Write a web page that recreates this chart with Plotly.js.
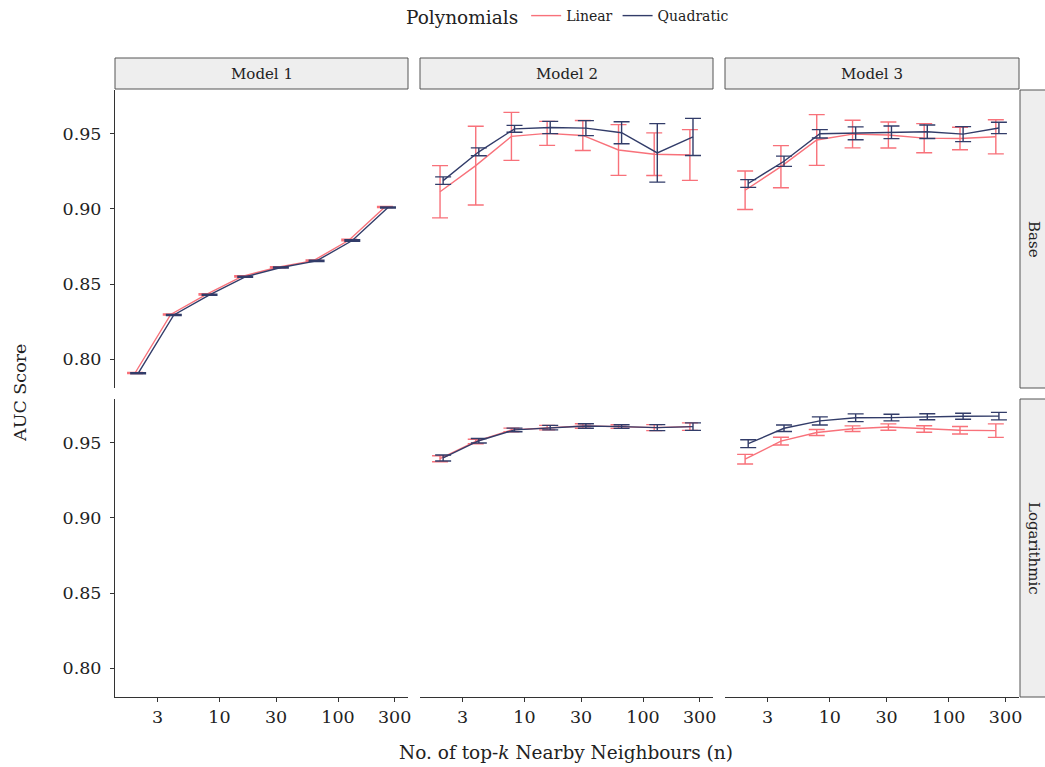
<!DOCTYPE html>
<html>
<head>
<meta charset="utf-8">
<script src="https://cdn.plot.ly/plotly-3.0.1.min.js"></script>
<style>
  html, body { margin: 0; padding: 0; background: #ffffff; }
  #chart { width: 1045px; height: 767px; }
</style>
</head>
<body>
<div id="chart"></div>
<script>
// Neighbourhood sizes (top-k) evaluated for every model
const kValues = [2, 4, 8, 16, 32, 64, 128, 256];

const modelNames = ['Model 1', 'Model 2', 'Model 3'];
const rowNames = ['Base', 'Logarithmic'];
const seriesNames = ['Linear', 'Quadratic'];
const xTickVals = [3, 10, 30, 100, 300];
const yTickVals = [0.80, 0.85, 0.90, 0.95];

// Mean AUC and error half-widths, Base features
const m1BaseLinear     = [0.7907, 0.8297, 0.8431, 0.8551, 0.8612, 0.8656, 0.8793, 0.9013];
const m1BaseLinearErr  = [0.0004, 0.0004, 0.0004, 0.0004, 0.0004, 0.0004, 0.0005, 0.0004];
const m1BaseQuad       = [0.7905, 0.8294, 0.8428, 0.8548, 0.8610, 0.8654, 0.8790, 0.9010];
const m1BaseQuadErr    = [0.0004, 0.0004, 0.0004, 0.0004, 0.0004, 0.0004, 0.0005, 0.0004];

const m2BaseLinear     = [0.9115, 0.9289, 0.9484, 0.9504, 0.9490, 0.9393, 0.9365, 0.9360];
const m2BaseLinearErr  = [0.0174, 0.0262, 0.0160, 0.0080, 0.0100, 0.0169, 0.0142, 0.0169];
const m2BaseQuad       = [0.9189, 0.9381, 0.9534, 0.9543, 0.9539, 0.9508, 0.9374, 0.9480];
const m2BaseQuadErr    = [0.0025, 0.0026, 0.0023, 0.0041, 0.0050, 0.0073, 0.0195, 0.0124];

const m3BaseLinear     = [0.9125, 0.9282, 0.9460, 0.9499, 0.9493, 0.9472, 0.9470, 0.9481];
const m3BaseLinearErr  = [0.0128, 0.0140, 0.0169, 0.0092, 0.0087, 0.0097, 0.0075, 0.0114];
const m3BaseQuad       = [0.9170, 0.9318, 0.9501, 0.9504, 0.9511, 0.9515, 0.9499, 0.9540];
const m3BaseQuadErr    = [0.0026, 0.0034, 0.0028, 0.0043, 0.0042, 0.0045, 0.0050, 0.0038];

// Mean AUC and error half-widths, Logarithmic features (Model 1 has none)
const m2LogLinear      = [0.9395, 0.9510, 0.9587, 0.9602, 0.9613, 0.9609, 0.9602, 0.9609];
const m2LogLinearErr   = [0.0020, 0.0015, 0.0012, 0.0015, 0.0015, 0.0012, 0.0020, 0.0025];
const m2LogQuad        = [0.9400, 0.9515, 0.9587, 0.9602, 0.9613, 0.9609, 0.9602, 0.9609];
const m2LogQuadErr     = [0.0020, 0.0015, 0.0012, 0.0015, 0.0015, 0.0012, 0.0020, 0.0025];

const m3LogLinear      = [0.9392, 0.9512, 0.9570, 0.9595, 0.9606, 0.9593, 0.9585, 0.9582];
const m3LogLinearErr   = [0.0032, 0.0026, 0.0020, 0.0019, 0.0021, 0.0022, 0.0025, 0.0045];
const m3LogQuad        = [0.9495, 0.9598, 0.9647, 0.9668, 0.9669, 0.9675, 0.9678, 0.9679];
const m3LogQuadErr     = [0.0026, 0.0022, 0.0027, 0.0026, 0.0022, 0.0020, 0.0020, 0.0025];

// Panel contents: [row][column] -> [linear, linearErr, quad, quadErr] or null
const panels = [
  [[m1BaseLinear, m1BaseLinearErr, m1BaseQuad, m1BaseQuadErr],
   [m2BaseLinear, m2BaseLinearErr, m2BaseQuad, m2BaseQuadErr],
   [m3BaseLinear, m3BaseLinearErr, m3BaseQuad, m3BaseQuadErr]],
  [null,
   [m2LogLinear, m2LogLinearErr, m2LogQuad, m2LogQuadErr],
   [m3LogLinear, m3LogLinearErr, m3LogQuad, m3LogQuadErr]]
];

const colors = { Linear: '#F8717A', Quadratic: '#323C69' };
const FONT = 'DejaVu Serif, Liberation Serif, serif';
const W = 1045, H = 767;

// panel geometry (pixels)
const colPx = [[115, 408], [420, 713], [725, 1019]];
const rowPx = [[90, 388], [399, 697]];
const px2x = p => p / W;
const px2y = p => 1 - p / H;

// small horizontal dodge between the two series on the log axis
const dodge = [Math.pow(10, -0.013), Math.pow(10, 0.013)];

const traces = [];
let legendShown = false;
panels.forEach((row, r) => {
  row.forEach((panel, c) => {
    const axN = r * 3 + c + 1;
    const xa = axN === 1 ? 'x' : 'x' + axN;
    const ya = r === 0 ? 'y' : 'y2';
    if (!panel) {
      // empty facet: keep its axes on the page
      traces.push({ type: 'scatter', mode: 'lines', x: [], y: [], xaxis: xa, yaxis: ya,
                    showlegend: false, hoverinfo: 'skip' });
      return;
    }
    seriesNames.forEach((name, s) => {
      const vals = panel[s * 2];
      const errs = panel[s * 2 + 1];
      traces.push({
        type: 'scatter',
        mode: 'lines',
        name: name,
        legendgroup: name,
        showlegend: !legendShown && r === 0 && c === 1,
        x: kValues.map(k => k * dodge[s]),
        y: vals,
        xaxis: xa,
        yaxis: ya,
        line: { color: colors[name], width: 1.4 },
        error_y: { type: 'data', array: errs, visible: true, color: colors[name], thickness: 1.4, width: 8 },
        hoverinfo: 'x+y'
      });
    });
    if (r === 0 && c === 1) legendShown = true;
  });
});

const xRange = [0.119, 2.59];
const yRange = [0.7807, 0.9793];
const tickFont = { family: FONT, size: 17.5, color: '#222' };

const layout = {
  width: W, height: H,
  margin: { l: 0, r: 0, t: 0, b: 0 },
  paper_bgcolor: '#ffffff',
  plot_bgcolor: '#ffffff',
  font: { family: FONT, color: '#222' },
  showlegend: true,
  legend: {
    orientation: 'h',
    x: px2x(404), xanchor: 'left',
    y: 1.0, yanchor: 'top',
    title: { text: 'Polynomials', side: 'left', font: { family: FONT, size: 18.5, color: '#222' } },
    font: { family: FONT, size: 14, color: '#222' },
    itemwidth: 30,
    tracegroupgap: 0,
    bgcolor: 'rgba(0,0,0,0)'
  },
  shapes: [],
  annotations: []
};

// x axes: 1-3 base row (hidden), 4-6 logarithmic row (ticked)
for (let r = 0; r < 2; r++) {
  for (let c = 0; c < 3; c++) {
    const n = r * 3 + c + 1;
    const key = n === 1 ? 'xaxis' : 'xaxis' + n;
    layout[key] = {
      type: 'log',
      range: xRange,
      domain: [px2x(colPx[c][0]), px2x(colPx[c][1])],
      anchor: r === 0 ? 'y' : 'y2',
      showgrid: false,
      zeroline: false,
      showline: r === 1,
      linecolor: '#333', linewidth: 1,
      ticks: r === 1 ? 'outside' : '',
      ticklen: 4, tickcolor: '#333',
      tickvals: xTickVals,
      ticktext: xTickVals.map(String),
      showticklabels: r === 1,
      tickfont: tickFont,
      automargin: false,
      fixedrange: true
    };
  }
}

// y axes: one per row, drawn on the left panel only
[['yaxis', 0, 'x'], ['yaxis2', 1, 'x4']].forEach(([key, r, anchor]) => {
  layout[key] = {
    range: yRange,
    domain: [px2y(rowPx[r][1]), px2y(rowPx[r][0])],
    anchor: anchor,
    showgrid: false,
    zeroline: false,
    showline: true,
    linecolor: '#333', linewidth: 1,
    ticks: 'outside', ticklen: 4, tickcolor: '#333',
    tickvals: yTickVals,
    ticktext: yTickVals.map(v => v.toFixed(2)),
    tickfont: tickFont,
    ticklabelstandoff: 5,
    automargin: false,
    fixedrange: true
  };
});

// facet strips along the top
modelNames.forEach((m, c) => {
  layout.shapes.push({
    type: 'rect', xref: 'paper', yref: 'paper',
    x0: px2x(colPx[c][0]), x1: px2x(colPx[c][1]),
    y0: px2y(89), y1: px2y(58),
    fillcolor: '#EEEEEE', line: { color: '#555', width: 1 }
  });
  layout.annotations.push({
    xref: 'paper', yref: 'paper',
    x: px2x((colPx[c][0] + colPx[c][1]) / 2), y: px2y(73.5),
    xanchor: 'center', yanchor: 'middle',
    text: m, showarrow: false,
    font: { family: FONT, size: 15, color: '#222' }
  });
});

// facet strips along the right side
rowNames.forEach((name, r) => {
  layout.shapes.push({
    type: 'rect', xref: 'paper', yref: 'paper',
    x0: px2x(1020), x1: px2x(1050),
    y0: px2y(rowPx[r][1]), y1: px2y(rowPx[r][0]),
    fillcolor: '#EEEEEE', line: { color: '#555', width: 1 }
  });
  layout.annotations.push({
    xref: 'paper', yref: 'paper',
    x: px2x(1034), y: px2y((rowPx[r][0] + rowPx[r][1]) / 2),
    xanchor: 'center', yanchor: 'middle',
    text: name, textangle: 90, showarrow: false,
    font: { family: FONT, size: 15, color: '#222' }
  });
});

// shared axis titles
layout.annotations.push({
  xref: 'paper', yref: 'paper',
  x: px2x(566), y: px2y(752),
  xanchor: 'center', yanchor: 'middle',
  text: 'No. of top-<i>k</i> Nearby Neighbours (n)', showarrow: false,
  font: { family: FONT, size: 18.5, color: '#222' }
});
layout.annotations.push({
  xref: 'paper', yref: 'paper',
  x: px2x(20), y: px2y(393),
  xanchor: 'center', yanchor: 'middle',
  text: 'AUC Score', textangle: -90, showarrow: false,
  font: { family: FONT, size: 17.5, color: '#222' }
});

Plotly.newPlot('chart', traces, layout, { displayModeBar: false, staticPlot: true });
</script>
</body>
</html>
